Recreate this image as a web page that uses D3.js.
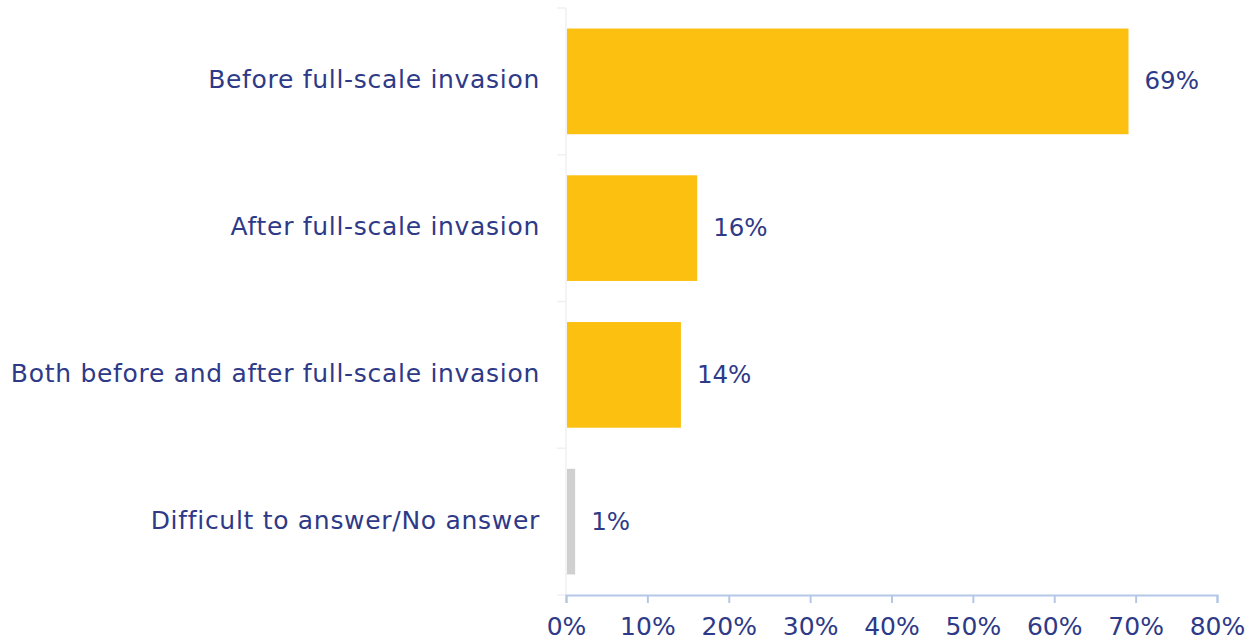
<!DOCTYPE html>
<html>
<head>
<meta charset="utf-8">
<script src="https://cdn.jsdelivr.net/npm/d3@7"></script>
<style>
  body { margin: 0; background: #fff; }
  svg text { font-family: "DejaVu Sans", sans-serif; fill: #2e3a87; }
</style>
</head>
<body>
<div id="chart"></div>
<script>
const categories = [
  'Before full-scale invasion',
  'After full-scale invasion',
  'Both before and after full-scale invasion',
  'Difficult to answer/No answer'
];
const values = [69, 16, 14, 1];
const barColors = ['#fcc010', '#fcc010', '#fcc010', '#d0d0d0'];
const xTicks = [0, 10, 20, 30, 40, 50, 60, 70, 80];

const width = 1250, height = 641;
const margin = { top: 8, right: 33, bottom: 46, left: 566 };

const svg = d3.select('#chart').append('svg')
  .attr('width', width)
  .attr('height', height);

const x = d3.scaleLinear()
  .domain([0, 80])
  .range([margin.left, width - margin.right]);

const y = d3.scaleBand()
  .domain(categories)
  .range([margin.top, height - margin.bottom])
  .paddingInner(0.28)
  .paddingOuter(0.14);

// left axis: faint line with ticks between categories
const yLeft = margin.left;
const bounds = categories.map(c => y(c) - y.step() * y.paddingInner() / 2);
bounds.push(height - margin.bottom);
svg.append('line')
  .attr('x1', yLeft).attr('x2', yLeft)
  .attr('y1', margin.top).attr('y2', height - margin.bottom)
  .attr('stroke', '#f0f0f0').attr('stroke-width', 1.5);
svg.selectAll('.ytick')
  .data([margin.top, ...bounds.slice(1)])
  .enter().append('line')
  .attr('x1', yLeft - 9).attr('x2', yLeft)
  .attr('y1', d => d).attr('y2', d => d)
  .attr('stroke', '#f0f0f0').attr('stroke-width', 1.5);

// category labels
svg.selectAll('.cat')
  .data(categories)
  .enter().append('text')
  .attr('x', margin.left - 26)
  .attr('y', d => y(d) + y.bandwidth() / 2)
  .attr('text-anchor', 'end')
  .attr('dominant-baseline', 'middle')
  .style('font-size', '25px')
  .style('letter-spacing', '0.7px')
  .text(d => d);

// bars
svg.selectAll('.bar')
  .data(values)
  .enter().append('rect')
  .attr('x', x(0) + 1)
  .attr('y', (d, i) => y(categories[i]))
  .attr('width', d => x(d) - x(0))
  .attr('height', y.bandwidth())
  .attr('fill', (d, i) => barColors[i]);

// value labels
svg.selectAll('.val')
  .data(values)
  .enter().append('text')
  .attr('x', d => x(d) + 17)
  .attr('y', (d, i) => y(categories[i]) + y.bandwidth() / 2 + 1)
  .attr('dominant-baseline', 'middle')
  .style('font-size', '24.5px')
  .text(d => d + '%');

// bottom axis
const xAxis = svg.append('g')
  .attr('transform', `translate(0,${height - margin.bottom})`)
  .call(d3.axisBottom(x).tickValues(xTicks).tickSize(8).tickPadding(14).tickFormat(d => d + '%'));
xAxis.select('.domain').attr('stroke', '#b4c7e7').attr('stroke-width', 2);
xAxis.selectAll('.tick line').attr('stroke', '#b4c7e7').attr('stroke-width', 2);
xAxis.selectAll('.tick text')
  .style('font-size', '25px')
  .style('font-family', '"DejaVu Sans", sans-serif')
  .attr('fill', '#2e3a87');
</script>
</body>
</html>
